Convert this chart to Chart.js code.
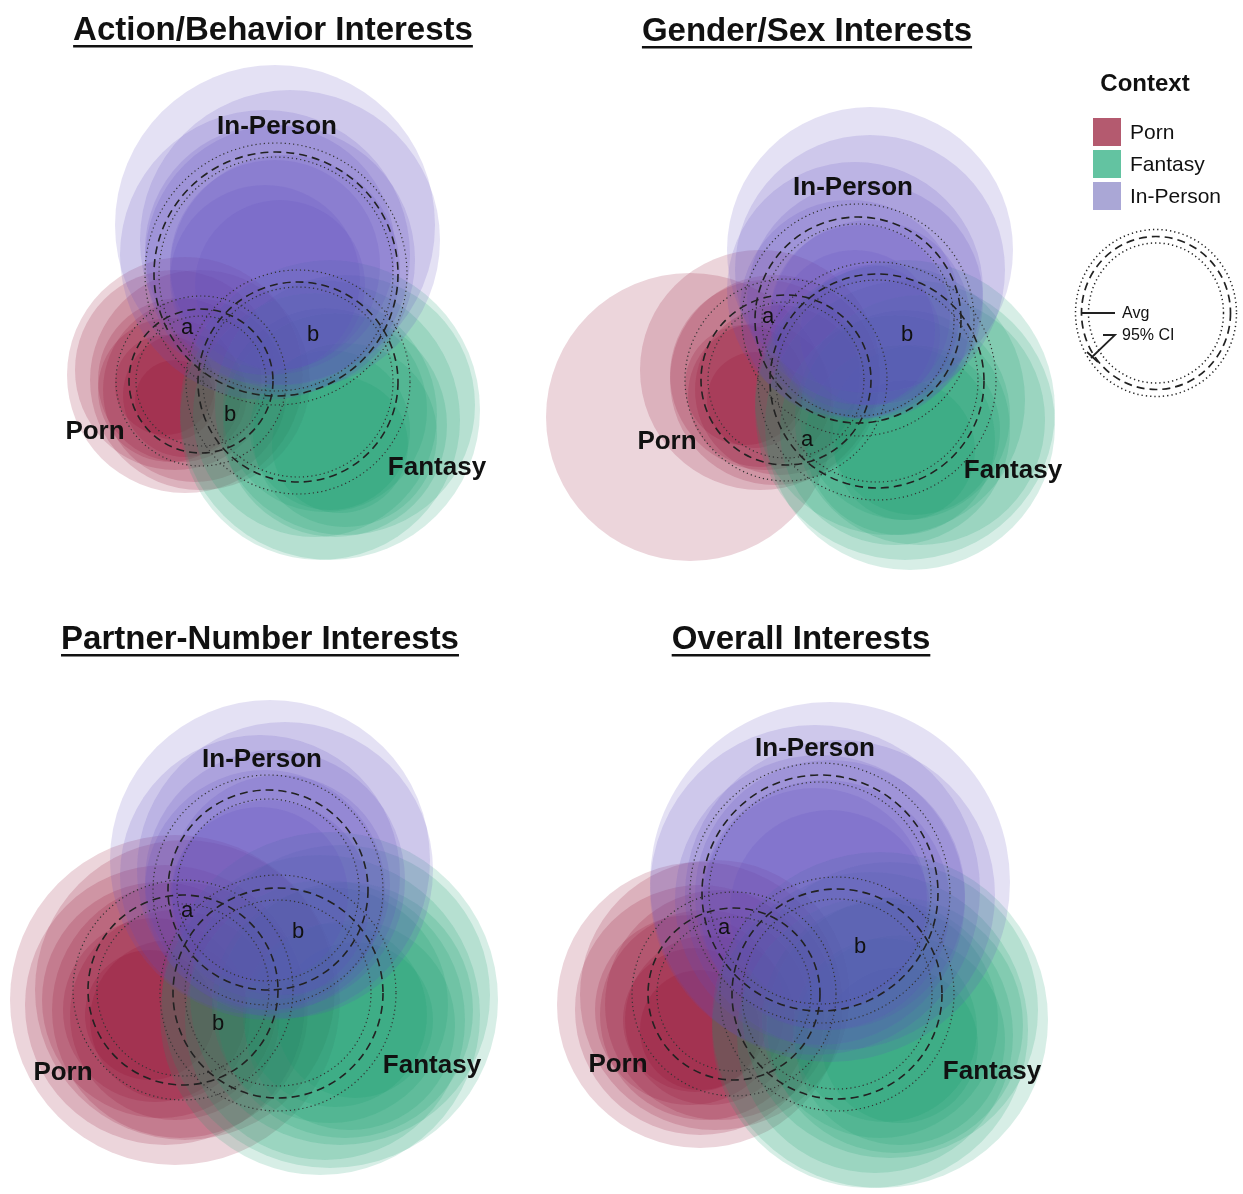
<!DOCTYPE html>
<html>
<head>
<meta charset="utf-8">
<script src="https://cdn.jsdelivr.net/npm/chart.js@4.4.1/dist/chart.umd.min.js"></script>
<style>
  html, body { margin: 0; padding: 0; background: #fff; overflow: hidden; }
  .panel { position: absolute; }
</style>
</head>
<body>
<div class="panel" style="left:0;top:0"><canvas id="action" width="540" height="600"></canvas></div>
<div class="panel" style="left:540px;top:0"><canvas id="gender" width="703" height="600"></canvas></div>
<div class="panel" style="left:0;top:597px"><canvas id="partner" width="540" height="597"></canvas></div>
<div class="panel" style="left:540px;top:597px"><canvas id="overall" width="540" height="597"></canvas></div>
<script>
// contexts, in the order used by every array below
const contexts = ['Porn', 'Fantasy', 'In-Person'];

// ---- Action/Behavior ----
const actionX = [20.1, 29.8, 27.6];
const actionY = [21.9, 21.8, 32.6];
const actionAvg = [7.2, 10.0, 12.2];
const actionLow = [6.5, 9.5, 11.7];
const actionHigh = [8.5, 11.2, 13.1];
const actionPornHalo = [[18.5,22.5,11.8],[20.0,22.0,11.0],[17.5,23.0,10.0],[19.5,21.0,9.2],[18.0,22.0,8.2],[17.0,21.0,7.2],[18.5,20.5,6.2],[16.5,21.5,5.0],[17.5,20.0,4.0]];
const actionFantasyHalo = [[33.0,19.0,15.0],[32.0,18.0,14.0],[34.5,19.5,13.0],[31.5,18.5,12.2],[33.5,17.5,11.2],[32.5,19.0,10.2],[34.5,16.5,9.2],[33.0,17.0,8.0],[34.0,15.5,6.8]];
const actionInPersonHalo = [[27.5,37.5,16.0],[29.0,36.0,15.0],[26.5,34.5,14.5],[28.0,34.0,13.5],[27.0,35.0,12.5],[28.5,33.0,11.5],[27.5,33.5,10.5],[26.5,32.0,9.5],[28.0,31.5,8.5]];
const actionLetters = [['a',18.7,27.2],['b',31.3,26.5],['b',23.0,18.5]];
const actionLabelPos = [[9.5,16.8],[43.7,13.2],[27.7,47.3]];

// ---- Gender/Sex ----
const genderX = [24.6, 33.7, 31.8];
const genderY = [22.0, 21.9, 28.0];
const genderAvg = [8.5, 10.7, 10.3];
const genderLow = [7.8, 10.1, 9.6];
const genderHigh = [10.1, 11.9, 11.6];
const genderPornHalo = [[15.0,18.3,14.4],[22.0,23.0,12.0],[23.5,22.0,10.5],[22.5,22.5,9.5],[24.0,21.0,8.5],[22.0,20.5,7.2],[20.5,21.5,6.0],[21.5,20.0,4.8]];
const genderFantasyHalo = [[36.5,19.0,15.0],[37.0,17.5,14.5],[35.0,20.0,13.5],[38.0,18.0,12.5],[35.5,17.0,11.5],[36.5,18.5,10.5],[36.0,16.0,9.5],[37.5,17.0,8.5],[36.5,15.0,7.0]];
const genderInPersonHalo = [[33.0,35.0,14.3],[33.0,33.0,13.5],[31.5,31.0,12.8],[32.5,30.0,11.8],[31.0,29.0,11.0],[33.0,28.0,10.0],[32.0,28.5,9.0],[31.5,27.0,8.0],[33.0,26.5,7.0]];
const genderLetters = [['a',22.8,28.3],['b',36.7,26.5],['a',26.7,16.0]];
const genderLabelPos = [[12.7,15.8],[47.3,12.9],[31.3,41.2]];

// ---- Partner-Number ----
const partnerX = [18.3, 27.8, 26.8];
const partnerY = [20.4, 20.1, 30.4];
const partnerAvg = [9.5, 10.5, 10.0];
const partnerLow = [8.6, 9.3, 9.1];
const partnerHigh = [11.0, 11.8, 11.5];
const partnerPornHalo = [[17.5,19.4,16.5],[18.5,20.4,15.0],[16.5,18.9,14.0],[18.0,18.4,12.8],[16.0,19.4,11.8],[17.5,17.9,10.5],[15.5,18.4,9.2],[17.0,17.4,8.0],[15.0,17.9,6.5]];
const partnerFantasyHalo = [[33.0,19.4,16.8],[32.0,17.9,16.0],[34.0,19.9,15.0],[32.5,17.4,14.0],[34.5,18.4,12.8],[33.0,18.9,11.8],[35.0,16.9,10.5],[33.5,17.9,9.2],[35.5,17.4,7.8]];
const partnerInPersonHalo = [[27.0,33.4,16.0],[28.5,32.4,14.8],[26.0,31.9,14.0],[27.5,31.4,13.0],[26.5,30.4,12.0],[28.0,30.9,11.0],[27.0,29.4,10.0],[26.0,29.9,8.8]];
const partnerLetters = [['a',18.7,28.3],['b',29.8,26.2],['b',21.8,17.0]];
const partnerLabelPos = [[6.3,12.1],[43.2,12.8],[26.2,43.4]];

// ---- Overall ----
const overallX = [19.4, 29.7, 28.0];
const overallY = [20.0, 20.0, 30.1];
const overallAvg = [8.6, 10.5, 11.8];
const overallLow = [7.7, 9.5, 11.1];
const overallHigh = [10.2, 11.7, 13.0];
const overallPornHalo = [[16.0,18.9,14.3],[17.5,19.9,13.5],[16.0,18.4,12.5],[18.0,18.9,11.5],[16.5,17.9,10.5],[15.0,18.4,9.5],[17.0,17.4,8.5],[15.5,17.4,7.2],[16.0,16.4,6.0]];
const overallFantasyHalo = [[34.0,17.4,16.8],[33.0,16.4,15.8],[35.0,18.4,14.8],[33.5,15.9,13.8],[35.5,16.9,12.8],[34.0,17.4,11.8],[36.0,15.4,10.5],[34.5,16.4,9.2],[36.0,14.9,7.8]];
const overallInPersonHalo = [[29.0,31.2,18.0],[27.5,30.4,16.5],[30.0,29.9,15.5],[28.0,29.4,14.5],[29.0,29.9,13.5],[28.5,28.9,12.5],[27.5,29.4,11.2],[29.0,28.4,10.0]];
const overallLetters = [['a',18.4,26.6],['b',32.0,24.7]];
const overallLabelPos = [[7.8,12.9],[45.2,12.2],[27.5,44.5]];

const FONT = '"Liberation Sans", Arial, Helvetica, sans-serif';
const baseColors = { 'Porn': '145,5,40', 'Fantasy': '15,155,105', 'In-Person': '95,78,190' };
const swatchColors = { 'Porn': '#b45a6f', 'Fantasy': '#63c3a1', 'In-Person': '#aaa7d6' };
// halo draw order: higher = drawn earlier (Porn, then Fantasy, In-Person on top)
const haloOrder = { 'Porn': 10, 'Fantasy': 9, 'In-Person': 8 };

// radius given in data units -> pixels, through the x scale
const ringRadius = c => {
  if (!c.raw) return 0;
  const sx = c.chart.scales.x;
  return Math.abs(sx.getPixelForValue(c.raw.s) - sx.getPixelForValue(0));
};

const ringDash = {
  id: 'ringDash',
  beforeDatasetDraw(chart, args) {
    chart.ctx.setLineDash(chart.data.datasets[args.index].dash || []);
  },
  afterDatasetDraw(chart) {
    chart.ctx.setLineDash([]);
  }
};

const panelText = {
  id: 'panelText',
  afterDraw(chart, args, opts) {
    const { ctx } = chart;
    const sx = chart.scales.x, sy = chart.scales.y;
    ctx.save();
    ctx.fillStyle = '#111';
    ctx.textAlign = 'center';
    ctx.textBaseline = 'middle';
    ctx.font = 'bold 26px ' + FONT;
    opts.labels.forEach((p, i) => ctx.fillText(contexts[i], sx.getPixelForValue(p[0]), sy.getPixelForValue(p[1])));
    ctx.font = '22px ' + FONT;
    opts.letters.forEach(l => ctx.fillText(l[0], sx.getPixelForValue(l[1]), sy.getPixelForValue(l[2])));
    // underlined panel title
    ctx.font = 'bold 33px ' + FONT;
    const tx = sx.getPixelForValue(opts.title[1]);
    const ty = sy.getPixelForValue(opts.title[2]);
    ctx.fillText(opts.title[0], tx, ty);
    const w = ctx.measureText(opts.title[0]).width;
    ctx.fillRect(tx - w / 2, ty + 14, w, 2.5);

    if (opts.legend) {
      const L = chart.chartArea.right;
      ctx.textAlign = 'center';
      ctx.font = 'bold 24px ' + FONT;
      ctx.fillText('Context', L + 65, 84);
      ctx.textAlign = 'left';
      ctx.font = '21px ' + FONT;
      contexts.forEach((c, i) => {
        ctx.fillStyle = swatchColors[c];
        ctx.fillRect(L + 13, 118 + i * 32, 28, 28);
        ctx.fillStyle = '#111';
        ctx.fillText(c, L + 50, 133 + i * 32);
      });
      // key ring
      const cx = L + 76, cy = 313;
      ctx.strokeStyle = '#222';
      [[80.5, 83.5, [1.3, 3], 1.5], [74.5, 76.5, [8, 5], 1.7], [67.5, 70, [1.3, 3], 1.5]].forEach(r => {
        ctx.setLineDash(r[2]);
        ctx.lineWidth = r[3];
        ctx.beginPath();
        ctx.ellipse(cx, cy, r[0], r[1], 0, 0, Math.PI * 2);
        ctx.stroke();
      });
      ctx.setLineDash([]);
      ctx.lineWidth = 1.8;
      ctx.beginPath();
      ctx.moveTo(L + 2, 313); ctx.lineTo(L + 35, 313);
      ctx.moveTo(L + 23, 335); ctx.lineTo(L + 35, 335); ctx.lineTo(L + 11, 358);
      ctx.moveTo(L + 7, 352); ctx.lineTo(L + 18, 362);
      ctx.stroke();
      ctx.font = '16px ' + FONT;
      ctx.fillText('Avg', L + 42, 314);
      ctx.fillText('95% CI', L + 42, 336);
    }
    ctx.restore();
  }
};

function toPoints(list) {
  return list.map(p => ({ x: p[0], y: p[1], s: p[2] }));
}

function ringPoints(xs, ys, rs) {
  return xs.map((x, i) => ({ x: x, y: ys[i], s: rs[i] }));
}

function makePanel(id, title, height, xs, ys, avg, low, high, halos, letters, labelPos, legend) {
  const datasets = [];
  contexts.forEach((c, i) => {
    datasets.push({
      label: c,
      data: toPoints(halos[i]),
      backgroundColor: 'rgba(' + baseColors[c] + ',0.17)',
      borderWidth: 0,
      order: haloOrder[c]
    });
  });
  datasets.push({ label: 'CI low', data: ringPoints(xs, ys, low), backgroundColor: 'rgba(0,0,0,0)',
    borderColor: '#333', borderWidth: 1.2, dash: [1.2, 3], order: 3 });
  datasets.push({ label: 'CI high', data: ringPoints(xs, ys, high), backgroundColor: 'rgba(0,0,0,0)',
    borderColor: '#333', borderWidth: 1.2, dash: [1.2, 3], order: 2 });
  datasets.push({ label: 'Avg', data: ringPoints(xs, ys, avg), backgroundColor: 'rgba(0,0,0,0)',
    borderColor: '#222', borderWidth: 1.6, dash: [8, 5], order: 1 });

  new Chart(document.getElementById(id), {
    type: 'scatter',
    data: { datasets: datasets },
    options: {
      responsive: false,
      animation: false,
      events: [],
      layout: { padding: { left: 0, top: 0, bottom: 0, right: legend ? 163 : 0 } },
      elements: { point: { radius: ringRadius, hoverRadius: ringRadius, pointStyle: 'circle' } },
      datasets: { scatter: { clip: false } },
      scales: {
        x: { type: 'linear', min: 0, max: 54, display: false },
        y: { type: 'linear', min: 0, max: height / 10, display: false }
      },
      plugins: {
        legend: { display: false },
        tooltip: { enabled: false },
        panelText: { title: title, labels: labelPos, letters: letters, legend: legend }
      }
    },
    plugins: [ringDash, panelText]
  });
}

makePanel('action', ['Action/Behavior Interests', 27.3, 56.9], 600, actionX, actionY, actionAvg, actionLow, actionHigh,
  [actionPornHalo, actionFantasyHalo, actionInPersonHalo], actionLetters, actionLabelPos, false);
makePanel('gender', ['Gender/Sex Interests', 26.7, 56.8], 600, genderX, genderY, genderAvg, genderLow, genderHigh,
  [genderPornHalo, genderFantasyHalo, genderInPersonHalo], genderLetters, genderLabelPos, true);
makePanel('partner', ['Partner-Number Interests', 26.0, 55.4], 597, partnerX, partnerY, partnerAvg, partnerLow, partnerHigh,
  [partnerPornHalo, partnerFantasyHalo, partnerInPersonHalo], partnerLetters, partnerLabelPos, false);
makePanel('overall', ['Overall Interests', 26.1, 55.4], 597, overallX, overallY, overallAvg, overallLow, overallHigh,
  [overallPornHalo, overallFantasyHalo, overallInPersonHalo], overallLetters, overallLabelPos, false);
</script>
</body>
</html>
